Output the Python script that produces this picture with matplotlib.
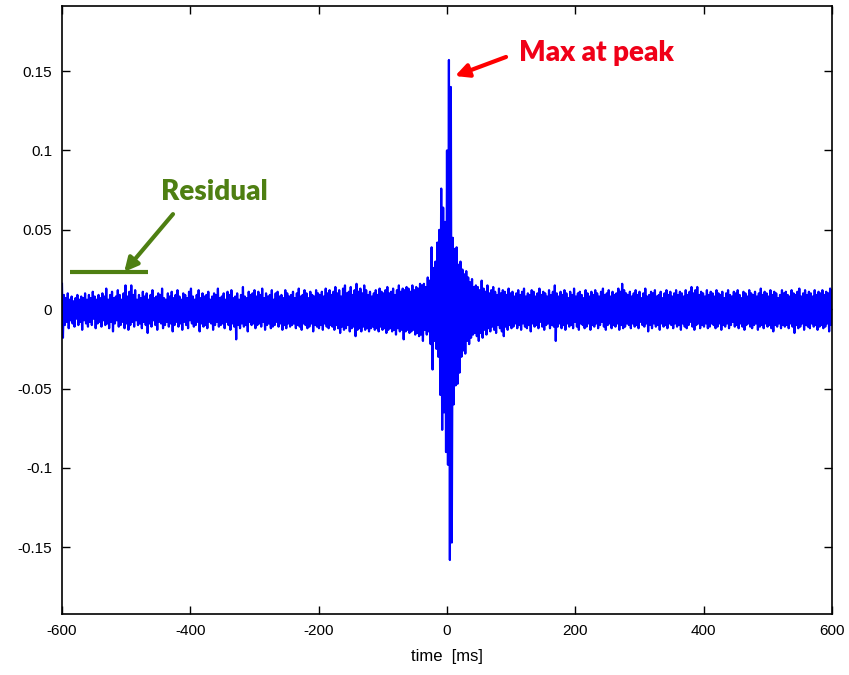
"""
Residual signal around the detected peak
"""
import matplotlib.pyplot as plt
import numpy as np

plt.rcParams['axes.unicode_minus'] = False

# envelope of the trace, in units of 1e-3, one pair every 3 ms from -600 ms
upper_left = [
    16, 9, 7, 10, 6, 8, 5, 7, 9, 6, 8, 7, 10, 6, 9, 7, 11, 8, 6, 9,
    7, 10, 8, 13, 6, 9, 11, 7, 8, 12, 9, 6, 10, 15, 8, 11, 15, 9, 12, 6,
    9, 7, 11, 8, 10, 6, 9, 12, 7, 8, 10, 9, 13, 7, 6, 10, 8, 11, 7, 9,
    12, 8, 6, 10, 9, 7, 11, 13, 8, 6, 9, 12, 7, 10, 8, 9, 11, 6, 8, 10,
    9, 13, 7, 8, 10, 6, 11, 9, 12, 7, 8, 10, 6, 9, 14, 8, 7, 11, 9, 10,
    12, 8, 11, 9, 13, 7, 10, 8, 9, 12, 6, 10, 11, 8, 9, 7, 12, 10, 8, 9,
    11, 7, 10, 13, 8, 9, 12, 10, 7, 11, 9, 8, 12, 10, 9, 11, 8, 13, 10, 12,
    9, 11, 14, 10, 12, 8, 13, 15, 10, 11, 14, 9, 12, 16, 11, 13, 10, 15, 12, 9,
    11, 8, 10, 12, 9, 13, 11, 10, 12, 14, 10, 11, 13, 9, 12, 15, 11, 13, 12, 14,
    13, 11, 15, 12, 14, 13, 16, 15,
]
lower_left = [
    -18, -10, -8, -12, -7, -9, -11, -6, -10, -8, -13, -7, -9, -11, -8, -10, -6, -12, -9, -8,
    -11, -7, -10, -9, -12, -8, -14, -9, -7, -11, -10, -8, -12, -9, -13, -10, -8, -11, -7, -10,
    -9, -12, -8, -10, -15, -9, -11, -7, -10, -13, -8, -9, -12, -10, -8, -11, -9, -14, -10, -8,
    -11, -9, -13, -8, -10, -12, -7, -9, -11, -10, -8, -14, -9, -11, -10, -12, -8, -9, -13, -10,
    -8, -11, -10, -9, -12, -8, -10, -13, -9, -11, -19, -10, -12, -9, -11, -10, -14, -8, -10, -9,
    -12, -10, -9, -11, -8, -13, -10, -9, -12, -11, -10, -8, -11, -9, -13, -10, -12, -9, -11, -10,
    -9, -12, -10, -11, -13, -9, -10, -12, -11, -9, -14, -10, -11, -12, -10, -13, -9, -11, -12, -10,
    -11, -13, -10, -12, -15, -11, -13, -12, -10, -14, -12, -11, -17, -13, -12, -14, -11, -13, -12, -14,
    -12, -11, -13, -12, -14, -11, -13, -12, -15, -13, -12, -14, -13, -16, -12, -14, -13, -19, -14, -13,
    -15, -14, -13, -16, -15, -17, -16, -20,
]
# -36 ms .. +45 ms, the burst itself
upper_mid = [16, 14, 20, 18, 39, 26, 30, 42, 50, 76, 64, 55, 100, 157,
             140, 45, 38, 39, 28, 30, 25, 22, 24, 20, 17, 19, 14, 15]
lower_mid = [-13, -16, -14, -22, -38, -20, -25, -30, -54, -76, -65, -90, -98, -158,
             -147, -60, -48, -47, -40, -30, -26, -28, -20, -22, -18, -16, -15, -17]
upper_right = [
    14, 12, 18, 13, 11, 15, 10, 12, 14, 11, 9, 13, 10, 12, 11, 9, 13, 10, 11, 8,
    10, 12, 9, 11, 13, 8, 10, 9, 12, 11, 8, 10, 13, 9, 11, 10, 8, 12, 9, 11,
    15, 10, 8, 11, 9, 12, 10, 7, 11, 9, 13, 8, 10, 11, 9, 7, 12, 10, 8, 11,
    9, 12, 10, 8, 11, 13, 9, 10, 12, 8, 11, 9, 10, 13, 11, 16, 12, 10, 9, 11,
    8, 10, 12, 9, 11, 7, 10, 13, 8, 9, 11, 10, 12, 8, 9, 11, 7, 10, 12, 9,
    11, 8, 10, 12, 9, 11, 10, 8, 12, 9, 11, 14, 10, 12, 14, 9, 11, 10, 8, 12,
    9, 11, 10, 8, 12, 10, 9, 11, 7, 10, 12, 9, 8, 11, 10, 12, 9, 7, 11, 10,
    8, 12, 10, 9, 11, 8, 10, 13, 9, 11, 10, 8, 12, 9, 11, 10, 7, 9, 12, 10,
    11, 9, 8, 12, 10, 9, 11, 13, 8, 10, 12, 9, 11, 10, 8, 12, 9, 11, 10, 12,
    9, 11, 10, 13, 12,
]
lower_right = [
    -20, -15, -18, -13, -16, -12, -14, -11, -13, -15, -10, -12, -14, -17, -11, -13, -10, -12, -11, -9,
    -12, -10, -13, -9, -11, -12, -10, -14, -9, -11, -10, -12, -8, -11, -13, -10, -9, -12, -10, -11,
    -20, -11, -9, -12, -10, -13, -9, -11, -10, -12, -8, -11, -13, -9, -10, -12, -11, -9, -13, -10,
    -11, -9, -12, -10, -8, -11, -13, -10, -9, -12, -10, -11, -9, -13, -10, -12, -11, -9, -10, -12,
    -9, -11, -10, -12, -8, -10, -11, -9, -14, -10, -12, -9, -11, -10, -13, -9, -11, -10, -12, -9,
    -10, -12, -9, -11, -10, -13, -9, -11, -12, -10, -8, -11, -13, -10, -9, -12, -10, -11, -9, -12,
    -11, -9, -10, -12, -11, -9, -13, -10, -11, -9, -12, -10, -8, -11, -10, -12, -9, -11, -13, -10,
    -9, -11, -12, -10, -9, -13, -11, -10, -12, -9, -11, -10, -12, -14, -10, -11, -9, -12, -10, -11,
    -10, -12, -9, -11, -15, -10, -12, -11, -9, -13, -10, -11, -12, -9, -11, -10, -13, -11, -10, -12,
    -11, -9, -14, -10, -12,
]

xticks = [-600, -400, -200, 0, 200, 400, 600]
yticks = [-0.15, -0.1, -0.05, 0, 0.05, 0.1, 0.15]
ytick_labels = ['-0.15', '-0.1', '-0.05', '0', '0.05', '0.1', '0.15']

upper = np.array(upper_left + upper_mid + upper_right) * 1e-3
lower = np.array(lower_left + lower_mid + lower_right) * 1e-3
assert len(upper) == len(lower) == 401

# zig-zag between the two envelopes -> dense trace
t0 = -600 + 3.0 * np.arange(len(upper))
t = np.empty(2 * len(upper))
sig = np.empty(2 * len(upper))
t[0::2] = t0
t[1::2] = t0 + 1.5
sig[0::2] = upper
sig[1::2] = lower
keep = t <= 600
t, sig = t[keep], sig[keep]

fig = plt.figure(figsize=(8.49, 6.75), dpi=100)
ax = fig.add_axes([0.073, 0.0904, 0.907, 0.9007])
ax.plot(t, sig, color='#0000FF', linewidth=1.6)

ax.set_xlim(-600, 600)
ax.set_ylim(-0.192, 0.191)
tick_font = dict(family=['Liberation Sans Narrow', 'Liberation Sans'], size=11)
ax.set_xticks(xticks)
ax.set_xticklabels([str(v) for v in xticks], **tick_font)
ax.set_yticks(yticks)
ax.set_yticklabels(ytick_labels, **tick_font)
ax.tick_params(direction='in', length=6, width=1, top=True, right=True, pad=7)
for s in ax.spines.values():
    s.set_linewidth(1.2)
ax.set_xlabel('time  [ms]', labelpad=8, **dict(tick_font, size=12))

# annotations
ax.annotate('', xy=(12.5, 0.1469), xytext=(92, 0.1589),
            arrowprops=dict(arrowstyle='-|>', color='#FF0000', lw=3, mutation_scale=20,
                            shrinkA=0, shrinkB=0))
ax.text(112, 0.1614, 'Max at peak', color='#F00018', fontsize=20, fontweight='heavy',
        family='Lato', va='center', ha='left')

ax.plot([-587.5, -466], [0.0233, 0.0233], color='#4E7F12', linewidth=3, solid_capstyle='butt')
ax.annotate('', xy=(-503, 0.0235), xytext=(-427, 0.0599),
            arrowprops=dict(arrowstyle='-|>', color='#4E7F12', lw=3, mutation_scale=20,
                            shrinkA=0, shrinkB=0))
ax.text(-446, 0.0738, 'Residual', color='#4E7F12', fontsize=20, fontweight='heavy',
        family='Lato', va='center', ha='left')

plt.savefig('out.png')
